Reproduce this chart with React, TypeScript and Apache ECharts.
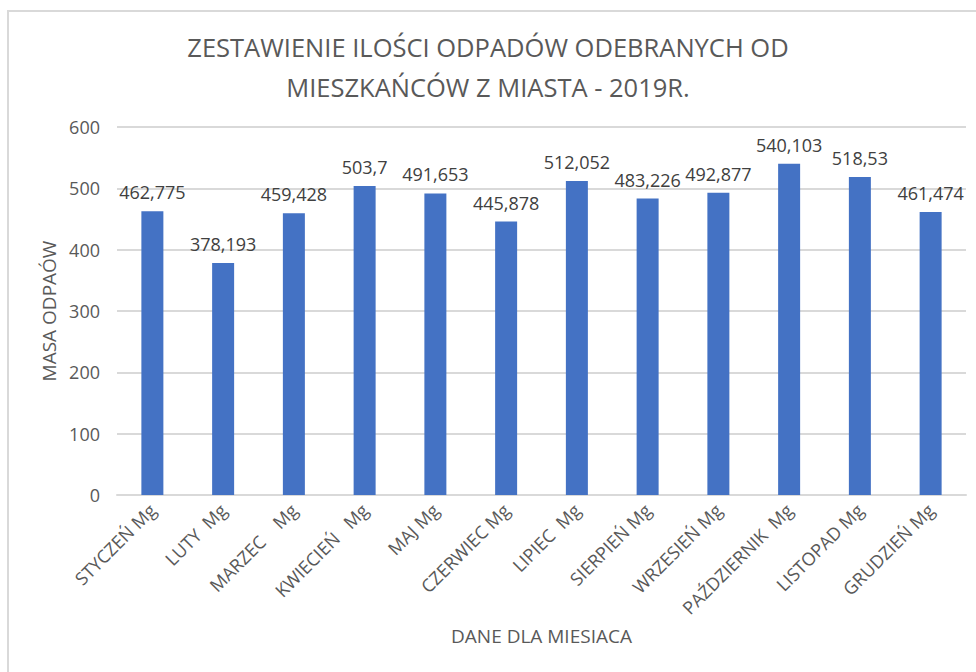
import React, { useEffect, useRef } from "react";
import * as echarts from "echarts";

const TITLE_LINES = [
  "ZESTAWIENIE ILOŚCI ODPADÓW ODEBRANYCH OD",
  "MIESZKAŃCÓW Z MIASTA - 2019R.",
];
const categories = [
  "STYCZEŃ Mg",
  "LUTY  Mg",
  "MARZEC    Mg",
  "KWIECIEŃ   Mg",
  "MAJ Mg",
  "CZERWIEC Mg",
  "LIPIEC  Mg",
  "SIERPIEŃ Mg",
  "WRZESIEŃ Mg",
  "PAŹDZIERNIK  Mg",
  "LISTOPAD Mg",
  "GRUDZIEŃ Mg",
];
const values = [
  462.775, 378.193, 459.428, 503.7, 491.653, 445.878, 512.052, 483.226,
  492.877, 540.103, 518.53, 461.474,
];
const yAxisName = "MASA ODPAÓW";
const xAxisName = "DANE DLA MIESIACA";

const FONT = "'Open Sans', sans-serif";

export default function App() {
  const ref = useRef<HTMLDivElement>(null);
  useEffect(() => {
    if (!ref.current) return;
    const chart = echarts.init(ref.current, undefined, { renderer: "svg" });
    chart.setOption({
      animation: false,
      backgroundColor: "#ffffff",
      title: {
        text: TITLE_LINES.join("\n"),
        left: "center",
        top: 22,
        textStyle: {
          fontFamily: FONT,
          fontSize: 25.5,
          fontWeight: "normal",
          color: "#595959",
          lineHeight: 40,
        },
      },
      graphic: [
        {
          type: "rect",
          shape: { x: 8, y: 11, width: 1000, height: 700 },
          style: { fill: "none", stroke: "#d9d9d9", lineWidth: 2 },
          silent: true,
        },
      ],
      grid: { left: 117, right: 10, top: 127, bottom: 177 },
      xAxis: {
        type: "category",
        data: categories,
        name: xAxisName,
        nameLocation: "middle",
        nameGap: 131,
        nameTextStyle: { fontFamily: FONT, fontSize: 19, color: "#595959" },
        axisLine: { lineStyle: { color: "#d9d9d9", width: 2 } },
        axisTick: { show: false },
        axisLabel: {
          rotate: 45,
          interval: 0,
          margin: 12,
          fontFamily: FONT,
          fontSize: 18,
          color: "#595959",
        },
      },
      yAxis: {
        type: "value",
        min: 0,
        max: 600,
        interval: 100,
        name: yAxisName,
        nameLocation: "middle",
        nameGap: 57,
        nameTextStyle: { fontFamily: FONT, fontSize: 19, color: "#595959" },
        axisLine: { show: false },
        axisTick: { show: false },
        axisLabel: {
          margin: 17,
          fontFamily: FONT,
          fontSize: 18,
          color: "#595959",
        },
        splitLine: { lineStyle: { color: "#d9d9d9", width: 2 } },
      },
      series: [
        {
          type: "bar",
          data: values,
          barWidth: 22,
          itemStyle: { color: "#4472C4" },
          label: {
            show: true,
            position: "top",
            distance: 10,
            fontFamily: FONT,
            fontSize: 18,
            color: "#404040",
            formatter: (p: any) => String(p.value).replace(".", ","),
          },
        },
      ],
    });
    return () => chart.dispose();
  }, []);
  return (
    <div
      ref={ref}
      style={{ position: "absolute", left: 0, top: 0, width: 976, height: 672 }}
    />
  );
}
